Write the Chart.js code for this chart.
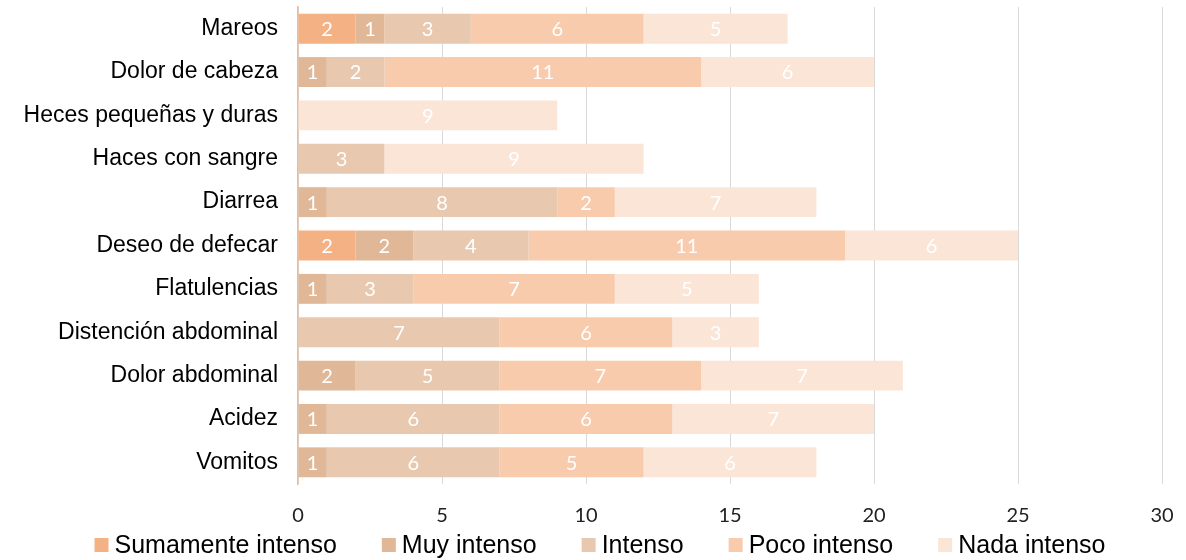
<!DOCTYPE html>
<html>
<head>
<meta charset="utf-8">
<script src="https://cdn.jsdelivr.net/npm/chart.js@4.4.1/dist/chart.umd.min.js"></script>
<style>
  html, body { margin: 0; padding: 0; background: #fff; }
  #wrap { width: 1186px; height: 560px; position: relative; }
</style>
</head>
<body>
<div id="wrap"><canvas id="c"></canvas></div>
<script>
// categories top to bottom, values per intensity level
const categories = [
  "Mareos", "Dolor de cabeza", "Heces pequeñas y duras", "Haces con sangre",
  "Diarrea", "Deseo de defecar", "Flatulencias", "Distención abdominal",
  "Dolor abdominal", "Acidez", "Vomitos",
];
const seriesNames = ["Sumamente intenso", "Muy intenso", "Intenso", "Poco intenso", "Nada intenso"];
const sumamente = [2, 0, 0, 0, 0, 2, 0, 0, 0, 0, 0];
const muy       = [1, 1, 0, 0, 1, 2, 1, 0, 2, 1, 1];
const intenso   = [3, 2, 0, 3, 8, 4, 3, 7, 5, 6, 6];
const poco      = [6, 11, 0, 0, 2, 11, 7, 6, 7, 6, 5];
const nada      = [5, 6, 9, 9, 7, 6, 5, 3, 7, 7, 6];
const xTicks    = [0, 5, 10, 15, 20, 25, 30];

const colors = ["#F4B183", "#E0B898", "#E8C9AF", "#F8CBAD", "#FBE5D6"];
const values = [sumamente, muy, intenso, poco, nada];

// white numbers in the middle of each segment
const segLabels = {
  id: "segLabels",
  afterDatasetsDraw(chart) {
    const ctx = chart.ctx;
    ctx.save();
    ctx.fillStyle = "#fff";
    ctx.font = "20px Lato";
    ctx.textAlign = "center";
    ctx.textBaseline = "middle";
    chart.data.datasets.forEach((ds, i) => {
      chart.getDatasetMeta(i).data.forEach((bar, j) => {
        const v = ds.data[j];
        if (!v) return;
        const p = bar.getProps(["x", "y", "base"], true);
        ctx.fillText(String(v), (p.x + p.base) / 2, p.y + 1);
      });
    });
    ctx.restore();
  },
};

// bottom legend, drawn by hand so spacing matches
const bottomLegend = {
  id: "bottomLegend",
  afterDraw(chart) {
    const ctx = chart.ctx;
    const box = 14, gapText = 6, gapItem = 45, y = 545;
    ctx.save();
    ctx.font = "25px 'Liberation Sans', Arial";
    ctx.textBaseline = "middle";
    const widths = seriesNames.map((n) => ctx.measureText(n).width);
    const total = widths.reduce((a, w) => a + box + gapText + w, 0) + gapItem * (seriesNames.length - 1);
    let x = 600 - total / 2;
    seriesNames.forEach((n, i) => {
      ctx.fillStyle = colors[i];
      ctx.fillRect(x, y - box / 2, box, box);
      x += box + gapText;
      ctx.fillStyle = "#000";
      ctx.fillText(n, x, y + 1);
      x += widths[i] + gapItem;
    });
    ctx.restore();
  },
};

new Chart(document.getElementById("c"), {
  type: "bar",
  data: {
    labels: categories,
    datasets: seriesNames.map((name, i) => ({
      label: name,
      data: values[i],
      backgroundColor: colors[i],
      borderWidth: 0,
      barPercentage: 0.69,
      categoryPercentage: 1,
    })),
  },
  options: {
    indexAxis: "y",
    responsive: true,
    maintainAspectRatio: false,
    animation: false,
    layout: { padding: { top: 7, right: 24, left: 0, bottom: 28 } },
    plugins: { legend: { display: false }, tooltip: { enabled: false } },
    scales: {
      x: {
        stacked: true,
        min: 0,
        max: 30,
        afterBuildTicks: (s) => { s.ticks = xTicks.map((v) => ({ value: v })); },
        afterFit: (s) => { s.height = 48; s.paddingLeft = 0; s.paddingRight = 0; },
        grid: { color: "#D9D9D9", lineWidth: 1, drawTicks: false },
        border: { display: false },
        ticks: { color: "#222", font: { family: "Lato", size: 20 }, padding: 20 },
      },
      y: {
        stacked: true,
        afterFit: (s) => { s.width = 298; s.paddingTop = 0; s.paddingBottom = 0; },
        grid: { display: false, drawTicks: true, tickLength: 20 },
        border: { display: true, color: "#EDBB99", width: 1.5 },
        ticks: { color: "#000", font: { family: "'Liberation Sans', Arial", size: 23 }, padding: 0 },
      },
    },
  },
  plugins: [segLabels, bottomLegend],
});
</script>
</body>
</html>
